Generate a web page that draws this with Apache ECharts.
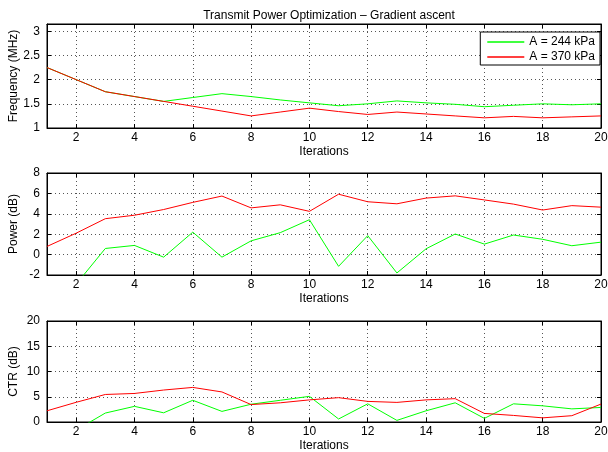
<!DOCTYPE html>
<html>
<head>
<meta charset="utf-8">
<script src="https://cdn.jsdelivr.net/npm/echarts@6/dist/echarts.min.js"></script>
<style>html,body{margin:0;padding:0;background:#fff}#c{width:608px;height:452px}</style>
</head>
<body>
<div id="c"></div>
<script>
const iterations = ['1','2','3','4','5','6','7','8','9','10','11','12','13','14','15','16','17','18','19','20'];
const seriesNames = ['A = 244 kPa', 'A = 370 kPa'];
const freq244 = [2.25, 2.0, 1.75, 1.65, 1.55, 1.63, 1.71, 1.65, 1.58, 1.52, 1.46, 1.5, 1.56, 1.52, 1.49, 1.44, 1.47, 1.5, 1.48, 1.5];
const freq370 = [2.25, 2.0, 1.75, 1.65, 1.55, 1.45, 1.35, 1.25, 1.33, 1.41, 1.34, 1.28, 1.33, 1.29, 1.25, 1.21, 1.24, 1.21, 1.23, 1.25];
const power244 = [-6.0, -2.9, 0.6, 0.9, -0.25, 2.2, -0.25, 1.35, 2.15, 3.42, -1.15, 1.86, -1.8, 0.57, 2.02, 1.03, 1.92, 1.5, 0.87, 1.22];
const power370 = [0.8, 2.1, 3.52, 3.86, 4.42, 5.12, 5.74, 4.58, 4.88, 4.24, 5.92, 5.18, 4.98, 5.54, 5.76, 5.36, 4.95, 4.37, 4.8, 4.65];
const ctr244 = [-4.0, -1.6, 1.77, 3.1, 1.82, 4.3, 2.1, 3.52, 4.3, 5.08, 0.6, 3.6, 0.32, 2.22, 3.8, 0.72, 3.6, 3.2, 2.6, 2.88];
const ctr370 = [2.22, 3.9, 5.45, 5.65, 6.33, 6.85, 5.95, 3.45, 3.8, 4.38, 4.82, 4.08, 3.88, 4.38, 4.62, 1.7, 1.3, 0.82, 1.25, 3.55];
const yNames = ['Frequency (MHz)', 'Power (dB)', 'CTR (dB)'];
const yRanges = [[1, 3.15, 0.5], [-2, 8, 2], [0, 20, 5]];

const FONT = 'Liberation Sans, Arial, Helvetica, sans-serif';
const GREEN = '#00ff00', RED = '#ff0000';
const grids = [
  {left: 47, right: 7, top: 24, height: 104},
  {left: 47, right: 7, top: 173, height: 102},
  {left: 47, right: 7, top: 321, height: 101}
].map(g => Object.assign({show: true, borderColor: '#000', borderWidth: 1, backgroundColor: '#fff',
  containLabel: false, outerBoundsMode: 'none'}, g));

const everyOther = (i) => i % 2 === 1;
const xAxes = [], yAxes = [], series = [];
const data = [[freq244, freq370], [power244, power370], [ctr244, ctr370]];
for (let k = 0; k < 3; k++) {
  xAxes.push({
    type: 'category', gridIndex: k, data: iterations, boundaryGap: false, position: 'bottom',
    name: 'Iterations', nameLocation: 'middle', nameGap: 18, nameMoveOverlap: false,
    nameTextStyle: {fontFamily: FONT, fontSize: 12, color: '#000'},
    axisLine: {onZero: false, lineStyle: {color: '#000', width: 1}},
    axisTick: {inside: true, length: 4, interval: everyOther, lineStyle: {color: '#000'}},
    axisLabel: {interval: everyOther, fontFamily: FONT, fontSize: 12, color: '#000', margin: 4},
    splitLine: {show: true, interval: everyOther, lineStyle: {color: '#555', type: [1, 3], width: 1}}
  });
  xAxes.push({
    type: 'category', gridIndex: k, data: iterations, boundaryGap: false, position: 'top',
    axisLine: {onZero: false, lineStyle: {color: '#000', width: 1}},
    axisTick: {inside: true, length: 4, interval: everyOther, lineStyle: {color: '#000'}},
    axisLabel: {show: false}, splitLine: {show: false}
  });
  const [mn, mx, iv] = yRanges[k];
  yAxes.push({
    type: 'value', gridIndex: k, min: mn, max: mx, interval: iv, position: 'left',
    name: yNames[k], nameLocation: 'middle', nameGap: 27, nameMoveOverlap: false,
    nameTextStyle: {fontFamily: FONT, fontSize: 12, color: '#000'},
    axisLine: {show: true, onZero: false, lineStyle: {color: '#000', width: 1}},
    axisTick: {show: true, inside: true, length: 4, lineStyle: {color: '#000'}},
    axisLabel: {fontFamily: FONT, fontSize: 12, color: '#000', margin: 7, showMaxLabel: k !== 0},
    splitLine: {show: true, lineStyle: {color: '#555', type: [1, 3], width: 1}}
  });
  yAxes.push({
    type: 'value', gridIndex: k, min: mn, max: mx, interval: iv, position: 'right',
    axisLine: {show: true, onZero: false, lineStyle: {color: '#000', width: 1}},
    axisTick: {show: true, inside: true, length: 4, lineStyle: {color: '#000'}},
    axisLabel: {show: false}, splitLine: {show: false}
  });
  [GREEN, RED].forEach((col, j) => {
    series.push({
      type: 'line', name: seriesNames[j], xAxisIndex: 2 * k, yAxisIndex: 2 * k,
      data: data[k][j], symbol: 'none', showSymbol: false, clip: true,
      lineStyle: {color: col, width: 1}, itemStyle: {color: col},
      z: 3 + (k === 0 ? j : 0), animation: false
    });
  });
}

const chart = echarts.init(document.getElementById('c'), null, {renderer: 'canvas'});
chart.setOption({
  backgroundColor: '#fff',
  animation: false,
  title: {
    text: 'Transmit Power Optimization \u2013 Gradient ascent', left: 324, top: 5, textAlign: 'center',
    textStyle: {fontFamily: FONT, fontSize: 12, fontWeight: 'normal', color: '#000'}
  },
  legend: {
    data: seriesNames.map(n => ({name: n, icon: 'rect'})), orient: 'vertical', right: 8, top: 32,
    backgroundColor: '#fff', borderColor: '#000', borderWidth: 1,
    padding: [3, 5, 1, 7], itemGap: 1, itemWidth: 37, itemHeight: 1.5,
    textStyle: {fontFamily: FONT, fontSize: 12, color: '#000', padding: [0, 0, 0, 0], lineHeight: 14}
  },
  grid: grids, xAxis: xAxes, yAxis: yAxes, series: series
});
</script>
</body>
</html>
